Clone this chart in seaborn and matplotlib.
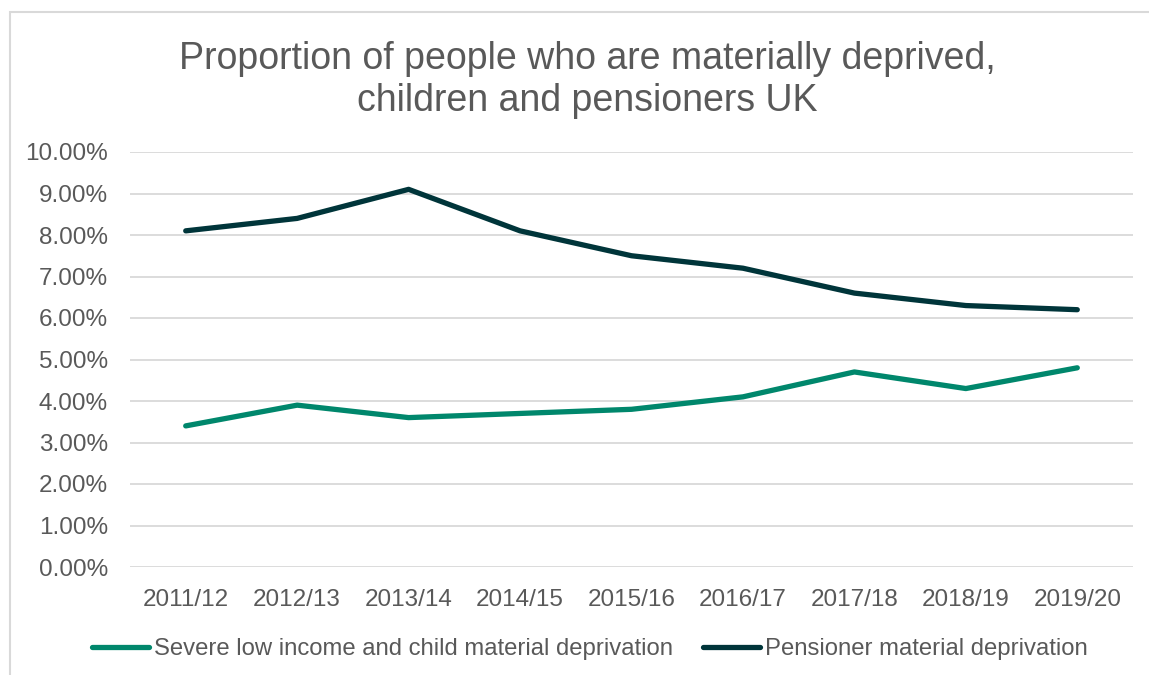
import matplotlib
matplotlib.use("Agg")
import matplotlib.pyplot as plt
import seaborn as sns
import pandas as pd
from matplotlib.patches import Rectangle
from matplotlib.ticker import FuncFormatter, MultipleLocator

years = ["2011/12", "2012/13", "2013/14", "2014/15", "2015/16",
         "2016/17", "2017/18", "2018/19", "2019/20"]
severe_child = [3.4, 3.9, 3.6, 3.7, 3.8, 4.1, 4.7, 4.3, 4.8]
pensioner = [8.1, 8.4, 9.1, 8.1, 7.5, 7.2, 6.6, 6.3, 6.2]

series_names = ["Severe low income and child material deprivation",
                "Pensioner material deprivation"]
colors = ["#00876C", "#00353A"]

df = pd.DataFrame({
    "year": years * 2,
    "value": severe_child + pensioner,
    "series": [series_names[0]] * len(years) + [series_names[1]] * len(years),
})

sns.set_theme(style="white")
plt.rcParams["font.family"] = ["Liberation Sans", "DejaVu Sans"]

fig = plt.figure(figsize=(11.49, 6.75), dpi=100)
ax = fig.add_axes([130 / 1149, 1 - 567 / 675, (1133 - 130) / 1149, (567 - 152) / 675])

# chart frame
fig.patches.append(Rectangle((10 / 1149, -0.05), 1.2, 1 - 12 / 675 + 0.05,
                             transform=fig.transFigure, fill=False,
                             edgecolor="#D9D9D9", linewidth=1.5))

df["x"] = df["year"].map({y: i for i, y in enumerate(years)})
sns.lineplot(data=df, x="x", y="value", hue="series", palette=colors,
             linewidth=3.8, ax=ax, legend=False, sort=False)
for line in ax.lines:
    line.set_solid_capstyle("round")
    line.set_solid_joinstyle("round")

ax.set_xlim(-0.5, len(years) - 0.5)
ax.set_ylim(0, 10)
ax.set_xticks(range(len(years)))
ax.set_xticklabels(years)
ax.yaxis.set_major_locator(MultipleLocator(1))
ax.yaxis.set_major_formatter(FuncFormatter(lambda v, _: f"{v:.2f}%"))
ax.grid(axis="y", color="#D9D9D9", linewidth=1.3)
ax.set_axisbelow(True)
for s in ax.spines.values():
    s.set_visible(False)
ax.tick_params(axis="both", length=0, labelsize=17.5, labelcolor="#595959")
ax.tick_params(axis="y", pad=16)
ax.tick_params(axis="x", pad=16)
ax.set_xlabel("")
ax.set_ylabel("")

fig.text(587 / 1149, 1 - 80 / 675,
         "Proportion of people who are materially deprived,\nchildren and pensioners UK",
         ha="center", va="center", fontsize=27, color="#595959", linespacing=1.2)

handles = [plt.Line2D([], [], color=c, linewidth=3.8, solid_capstyle="round") for c in colors]
fig.legend(handles, series_names, loc="center", bbox_to_anchor=(590 / 1149, 1 - 649 / 675),
           ncol=2, frameon=False, fontsize=17.2, labelcolor="#595959",
           handlelength=2.4, handletextpad=0.2, columnspacing=1.25,
           borderpad=0, borderaxespad=0)

fig.savefig("out.png", dpi=100)
